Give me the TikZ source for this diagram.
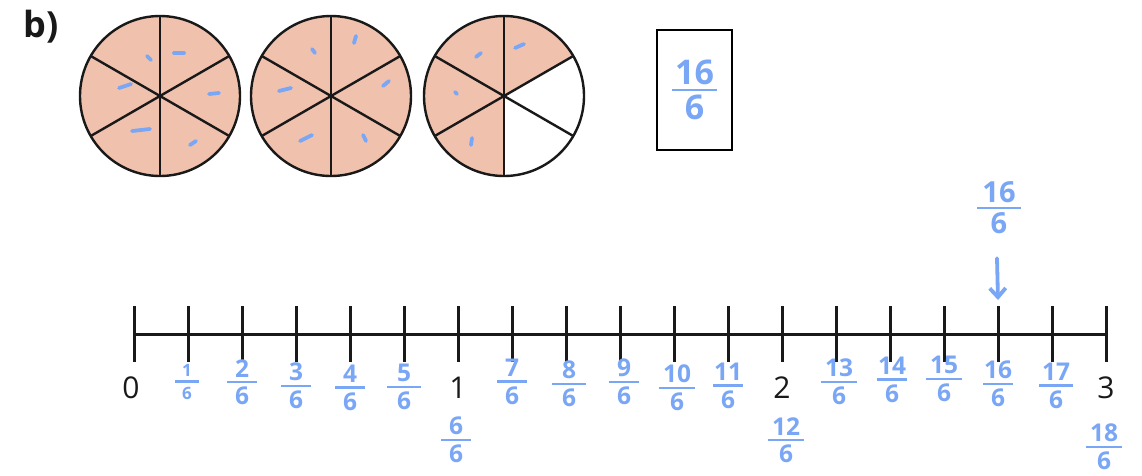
\documentclass[tikz,border=0pt]{standalone}
\usepackage{fontspec}
\setmainfont{Open Sans}
\usetikzlibrary{arrows.meta,calc}
\definecolor{pinkfill}{RGB}{240,194,174}
\definecolor{penblue}{RGB}{122,166,246}
\newcommand\fr[3][1.2em]{\vbox{\offinterlineskip\halign{\hfil##\hfil\cr #2\cr\noalign{\vskip3.5pt}\rule{#1}{2.8pt}\cr\noalign{\vskip3.5pt}#3\cr}}}
\tikzset{
  outline/.style={line width=2.4pt, black!90},
  pen/.style={penblue, line width=3.8pt, line cap=round},
  frac/.style={text=penblue, inner sep=0pt, font=\fontsize{24.5}{28}\selectfont\bfseries},
  num/.style={inner sep=0pt, font=\fontsize{30}{34}\selectfont, text=black!90},
  tick/.style={line width=3pt, black!90},
}
\begin{document}
\begin{tikzpicture}[x=1pt,y=-1pt]
\fill[white] (0,0) rectangle (1142,475);
\useasboundingbox (0,0) rectangle (1142,475);
\node[inner sep=0pt, font=\fontsize{36}{40}\selectfont\bfseries, text=black!90] (lbl) at (41,27) {b)};
% circles
\foreach \cx/\nm in {160/c1,331/c2,504/c3}{
  \coordinate (\nm) at (\cx,96);
  \fill[pinkfill] (\nm) circle[radius=80];
}
\fill[white] (c3) -- ++(-30:80) arc[start angle=-30, end angle=90, radius=80] -- cycle;
\foreach \nm in {c1,c2,c3}{
  \foreach \a in {90,30,-30}{
    \draw[outline] ($(\nm)+(\a:80)$) -- ($(\nm)+(\a+180:80)$);
  }
  \draw[outline] (\nm) circle[radius=80];
}
% blue marks
\draw[pen] (147,56)--(151,60);
\draw[pen] (174,53)--(184,53);
\draw[pen] (119,88)--(131,84);
\draw[pen] (209,94)--(219,93);
\draw[pen] (132,131)--(150,129);
\draw[pen] (190,145)--(196,141);
\draw[pen] (312,49)--(315,53);
\draw[pen] (354,43)--(356,36);
\draw[pen] (279,91)--(291,88);
\draw[pen] (383,86)--(389,81);
\draw[pen] (300,141)--(312,135);
\draw[pen] (363,135)--(366,141);
\draw[pen] (476,57)--(481,53);
\draw[pen] (515,48)--(524,44);
\draw[pen] (455,92)--(457,94);
\draw[pen] (472,138)--(471,145);
% box
\node[draw, line width=1.6pt, minimum width=75pt, minimum height=120pt, inner sep=0pt] (box) at (694.5,90) {};
\node[frac, font=\fontsize{34}{38}\selectfont\bfseries] (boxfr) at (box.center) {\fr[1.3em]{16}{6}};
% number line
\coordinate (L) at (134,334);
\coordinate (R) at (1106,334);
\draw[tick] (L) -- (R);
\foreach \i in {0,...,18}{
  \draw[tick] (134+54*\i,306) -- (134+54*\i,362);
}
\coordinate (t16) at (998,300);
\node[num] (n0) at (131,388) {0};
\node[num] (n1) at (458,388) {1};
\node[num] (n2) at (782,388) {2};
\node[num] (n3) at (1106,388) {3};
\node[frac, font=\fontsize{17}{19}\selectfont\bfseries] (f1) at (187,382) {\fr[1.4em]{1}{6}};
\node[frac] (f2) at (242,382) {\fr{2}{6}};
\node[frac] (f3) at (296,386) {\fr{3}{6}};
\node[frac] (f4) at (350,388) {\fr{4}{6}};
\node[frac] (f5) at (404,387) {\fr[1.4em]{5}{6}};
\node[frac] (f6) at (456,440) {\fr{6}{6}};
\node[frac] (f7) at (512,382) {\fr{7}{6}};
\node[frac] (f8) at (569,384) {\fr[1.4em]{8}{6}};
\node[frac] (f9) at (624,382) {\fr{9}{6}};
\node[frac] (f10) at (677,388) {\fr[1.5em]{10}{6}};
\node[frac] (f11) at (728,386) {\fr{11}{6}};
\node[frac] (f12) at (786,440) {\fr[1.5em]{12}{6}};
\node[frac] (f13) at (839,382) {\fr[1.5em]{13}{6}};
\node[frac] (f14) at (892,380) {\fr{14}{6}};
\node[frac] (f15) at (944,379) {\fr[1.5em]{15}{6}};
\node[frac] (f16) at (998,384) {\fr{16}{6}};
\node[frac] (f17) at (1056,386) {\fr[1.4em]{17}{6}};
\node[frac] (f18) at (1104,447) {\fr[1.5em]{18}{6}};
% top label and arrow
\node[frac, font=\fontsize{29}{32}\selectfont\bfseries] (top16) at (999,208) {\fr[1.5em]{16}{6}};
\draw[pen, -{Straight Barb[length=9pt,width=16pt]}] (top16.south) ++(-2,24) -- (t16);
\end{tikzpicture}
\end{document}
